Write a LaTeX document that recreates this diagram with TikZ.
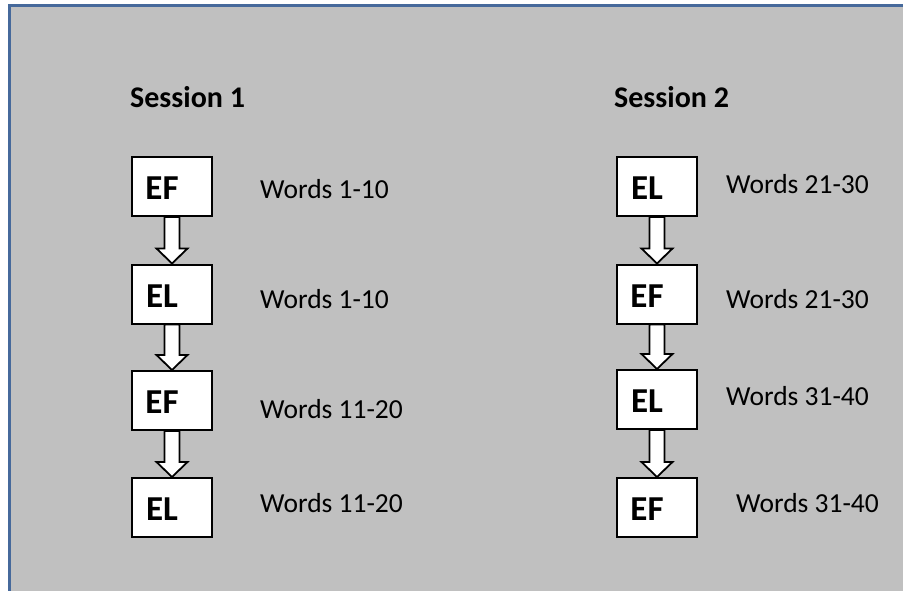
\documentclass[tikz,border=0pt]{standalone}
\usepackage{fontspec}
\setmainfont{Carlito}
\usepackage{xcolor}
\usetikzlibrary{calc}
\definecolor{panelgray}{RGB}{192,192,192}
\definecolor{panelblue}{RGB}{70,105,155}
\tikzset{
  condbox/.style={draw, line width=2pt, fill=white, minimum width=80pt, minimum height=59pt,
    text height=26pt, text depth=0pt, execute at end node={\hspace*{20pt}},
    font=\fontsize{35}{40}\selectfont\bfseries},
  wordlabel/.style={anchor=west, inner sep=0pt, font=\fontsize{27.5}{32}\selectfont},
  sessiontitle/.style={anchor=west, inner sep=0pt, font=\fontsize{30}{34}\selectfont\bfseries},
  blockarrow/.style={draw, line width=1.8pt, fill=white, line join=miter}
}
\newcommand{\flowarrow}[2]{%
  \draw[blockarrow] let \p1=(#1.south), \p2=(#2.north) in
    (\x1-7.5pt,\y1) -- (\x1+7.5pt,\y1) -- (\x1+7.5pt,\y2+15pt) -- (\x1+15.5pt,\y2+15pt)
    -- (\x1,\y2) -- (\x1-15.5pt,\y2+15pt) -- (\x1-7.5pt,\y2+15pt) -- cycle;}
\begin{document}
\begin{tikzpicture}[x=1pt, y=-1pt]
\useasboundingbox (0,0) rectangle (903,591);
% Draw panel
\fill[panelgray] (9,6) rectangle (903,591);
\draw[panelblue, line width=3pt] (9,591) -- (9,6) -- (903,6);
% Draw titles
\node[sessiontitle] (title1) at (130,97) {Session 1};
\node[sessiontitle] (title2) at (614,97) {Session 2};
% Draw boxes, session 1
\node[condbox] (a1) at (172,186.5) {EF};
\node[condbox] (a2) at (172,294) {EL};
\node[condbox] (a3) at (172,400.5) {EF};
\node[condbox] (a4) at (172,507.5) {EL};
% Draw boxes, session 2
\node[condbox] (b1) at (657,186.5) {EL};
\node[condbox] (b2) at (657,294) {EF};
\node[condbox] (b3) at (657,399.5) {EL};
\node[condbox] (b4) at (657,507.5) {EF};
% Draw arrows
\flowarrow{a1}{a2}
\flowarrow{a2}{a3}
\flowarrow{a3}{a4}
\flowarrow{b1}{b2}
\flowarrow{b2}{b3}
\flowarrow{b3}{b4}
% Draw labels
\node[wordlabel] (wa1) at (260,189.5) {Words 1-10};
\node[wordlabel] (wa2) at (260,299.5) {Words 1-10};
\node[wordlabel] (wa3) at (260,409.5) {Words 11-20};
\node[wordlabel] (wa4) at (260,503.5) {Words 11-20};
\node[wordlabel] (wb1) at (726,184.5) {Words 21-30};
\node[wordlabel] (wb2) at (726,299.5) {Words 21-30};
\node[wordlabel] (wb3) at (726,396.5) {Words 31-40};
\node[wordlabel] (wb4) at (736,503.5) {Words 31-40};
\end{tikzpicture}
\end{document}
